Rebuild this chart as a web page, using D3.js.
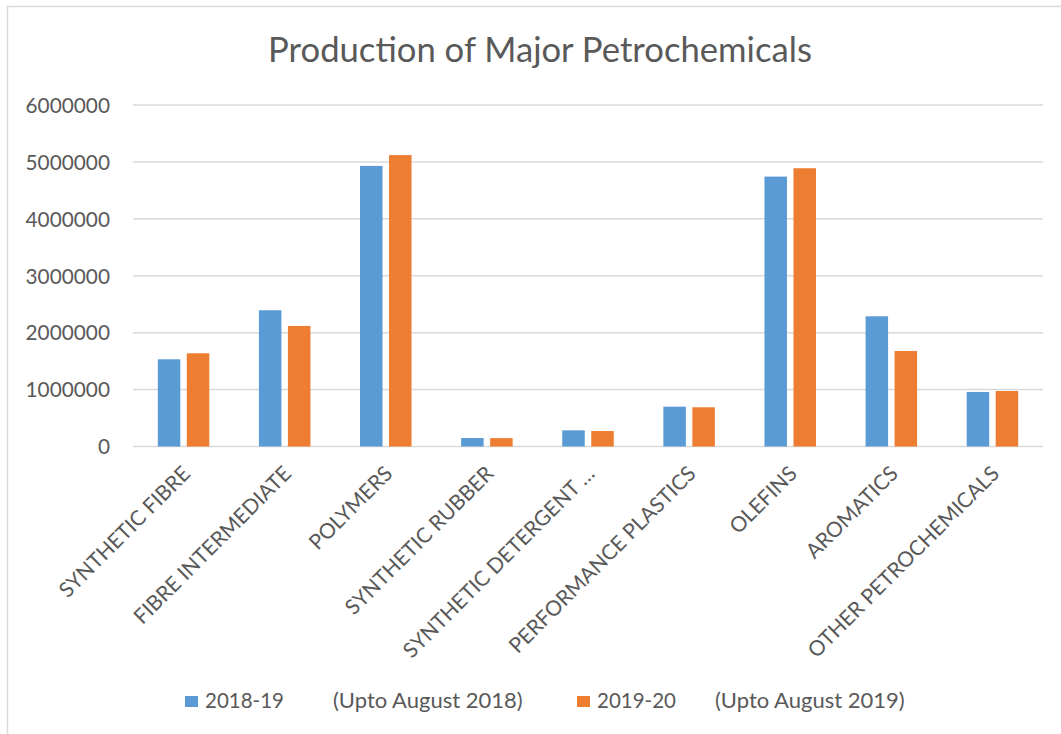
<!DOCTYPE html>
<html>
<head>
<meta charset="utf-8">
<script src="https://cdn.jsdelivr.net/npm/d3@7"></script>
<style>
  html, body { margin: 0; padding: 0; background: #fff; }
  svg { display: block; }
  text { font-family: Lato, "Open Sans", sans-serif; fill: #595959; }
</style>
</head>
<body>
<svg id="chart" width="1061" height="734"></svg>
<script>
const categories = ["SYNTHETIC FIBRE", "FIBRE INTERMEDIATE", "POLYMERS", "SYNTHETIC RUBBER",
  "SYNTHETIC DETERGENT …", "PERFORMANCE PLASTICS", "OLEFINS", "AROMATICS", "OTHER PETROCHEMICALS"];
const series2018 = [1532000, 2394000, 4930000, 149000, 284000, 700000, 4742000, 2288000, 958000];
const series2019 = [1638000, 2118000, 5120000, 147000, 272000, 689000, 4889000, 1678000, 975000];
const seriesNames = ["2018-19", "2019-20"];
const seriesNotes = ["(Upto August 2018)", "(Upto August 2019)"];
const yTicks = [0, 1000000, 2000000, 3000000, 4000000, 5000000, 6000000];
const colors = ["#5b9bd5", "#ed7d31"];

const svg = d3.select("#chart");
// chart border
svg.append("rect").attr("x", 7.5).attr("y", 6.5).attr("width", 1100).attr("height", 800)
  .attr("fill", "none").attr("stroke", "#d9d9d9").attr("stroke-width", 1.5);

const plot = { left: 133, right: 1043, top: 105, bottom: 446.5 };
const x = d3.scaleBand().domain(categories).range([plot.left, plot.right]).paddingInner(0).paddingOuter(0);
const y = d3.scaleLinear().domain([0, 6000000]).range([plot.bottom, plot.top]);
const barW = 22.5, gap = 6.5;

// title
const title = svg.append("text").attr("x", (268 + 812) / 2).attr("y", 61.5)
  .attr("text-anchor", "middle").style("font-size", "31px").text("Production of Major Petrochemicals");
const tw = title.node().getComputedTextLength();
title.style("font-size", (31 * 544 / tw) + "px");

// gridlines
svg.append("g").selectAll("line").data(yTicks).join("line")
  .attr("x1", plot.left).attr("x2", plot.right)
  .attr("y1", d => y(d)).attr("y2", d => y(d))
  .attr("stroke", "#d9d9d9").attr("stroke-width", 1.5);

// y axis labels
const yAxis = d3.axisLeft(y).tickValues(yTicks).tickSize(0).tickPadding(0).tickFormat(d3.format("d"));
const yg = svg.append("g").attr("transform", `translate(110,0)`).call(yAxis);
yg.select(".domain").remove();
yg.selectAll("text").style("font-size", "20.8px").style("font-family", "Lato, sans-serif").attr("fill", "#595959").attr("dy", "0.35em");

// bars
const data = categories.map((c, i) => ({ c, v: [series2018[i], series2019[i]] }));
const groups = svg.append("g").selectAll("g").data(data).join("g");
groups.selectAll("rect").data(d => d.v.map((v, k) => ({ c: d.c, v, k }))).join("rect")
  .attr("x", d => x(d.c) + x.bandwidth() / 2 + (d.k === 0 ? -(barW + gap / 2) : gap / 2))
  .attr("y", d => y(d.v))
  .attr("width", barW)
  .attr("height", d => y(0) - y(d.v))
  .attr("fill", d => colors[d.k]);

// x labels
svg.append("g").selectAll("text").data(categories).join("text")
  .attr("transform", d => `translate(${x(d) + x.bandwidth() / 2 + 8},${475}) rotate(-45)`)
  .attr("text-anchor", "end")
  .style("font-size", "21px")
  .text(d => d);

// legend
const legendItems = [
  { sq: 185, tx: 205, note: 333, noteW: 190, k: 0 },
  { sq: 577, tx: 597, note: 715, noteW: 190, k: 1 }
];
const lg = svg.append("g").selectAll("g").data(legendItems).join("g");
lg.append("rect").attr("x", d => d.sq).attr("y", 696).attr("width", 13).attr("height", 11)
  .attr("fill", d => colors[d.k]);
lg.append("text").attr("x", d => d.tx).attr("y", 708).style("font-size", "20.5px").text(d => seriesNames[d.k]);
lg.append("text").attr("x", d => d.note).attr("y", 708).style("font-size", "20.5px").text(d => seriesNotes[d.k])
  .each(function (d) {
    const w = this.getComputedTextLength();
    d3.select(this).style("font-size", Math.min(22, 20.5 * d.noteW / w) + "px");
  });
</script>
</body>
</html>
